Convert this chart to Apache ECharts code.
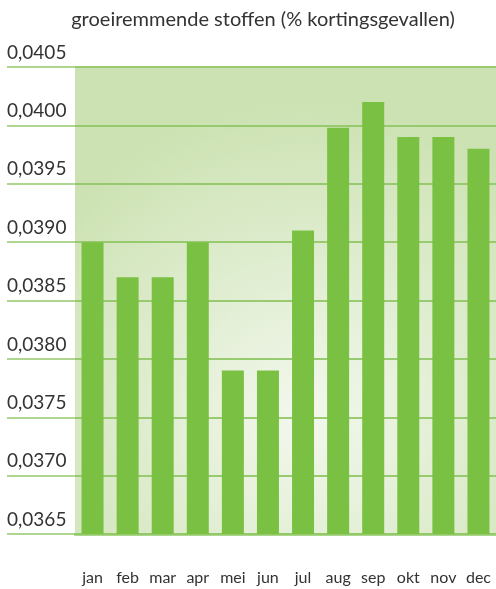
<!DOCTYPE html>
<html>
<head>
<meta charset="utf-8">
<script src="https://cdn.jsdelivr.net/npm/echarts@6/dist/echarts.min.js"></script>
<style>
  html, body { margin: 0; padding: 0; background: #fff; }
  #chart { width: 496px; height: 589px; }
</style>
</head>
<body>
<div id="chart"></div>
<script>
// data
const months = ['jan', 'feb', 'mar', 'apr', 'mei', 'jun', 'jul', 'aug', 'sep', 'okt', 'nov', 'dec'];
const kortingen = [0.0390, 0.0387, 0.0387, 0.0390, 0.0379, 0.0379, 0.0391, 0.03998, 0.0402, 0.0399, 0.0399, 0.0398];
const yMin = 0.0365;
const yMax = 0.0405;
const yStep = 0.0005;

const chart = echarts.init(document.getElementById('chart'));

const fontFam = 'Lato, "Open Sans", sans-serif';
const lineGreen = '#93c968';

const bgGradient = new echarts.graphic.RadialGradient(0.55, 0.75, 0.75, [
  { offset: 0, color: '#f3f8ee' },
  { offset: 1, color: '#cce2b2' }
]);

const option = {
  animation: false,
  title: {
    text: 'groeiremmende stoffen (% kortingsgevallen)',
    left: 258,
    textAlign: 'center',
    top: 5,
    textStyle: { fontFamily: fontFam, fontSize: 20, fontWeight: 'normal', color: '#333' }
  },
  grid: [
    // labels + long gridlines
    { left: 7, right: 0, top: 67, bottom: 55 },
    // bars with shaded background
    { left: 75, width: 423, top: 67, bottom: 55, show: true, backgroundColor: bgGradient, borderWidth: 0 }
  ],
  xAxis: [
    { gridIndex: 0, type: 'category', data: months, show: false },
    {
      gridIndex: 1,
      type: 'category',
      data: months,
      axisLine: { show: true, lineStyle: { color: lineGreen, width: 2.5 } },
      axisTick: { show: false },
      axisLabel: { margin: 36, fontFamily: fontFam, fontSize: 16, color: '#333' }
    }
  ],
  yAxis: [
    {
      gridIndex: 0,
      type: 'value',
      min: yMin,
      max: yMax,
      interval: yStep,
      axisLine: { show: false },
      axisTick: { show: false },
      splitLine: { lineStyle: { color: lineGreen, width: 1.5 } },
      axisLabel: {
        inside: true,
        margin: 0,
        align: 'left',
        verticalAlign: 'bottom',
        padding: [0, 0, 5, 0],
        fontFamily: fontFam,
        fontSize: 19,
        color: '#333',
        showMinLabel: true,
        showMaxLabel: true,
        formatter: v => v.toFixed(4).replace('.', ',')
      }
    },
    {
      gridIndex: 1,
      type: 'value',
      min: yMin,
      max: yMax,
      interval: yStep,
      axisLine: { show: false },
      axisTick: { show: false },
      axisLabel: { show: false },
      splitLine: { lineStyle: { color: lineGreen, width: 1.5 } }
    }
  ],
  series: [
    {
      type: 'bar',
      xAxisIndex: 1,
      yAxisIndex: 1,
      data: kortingen,
      barWidth: 22,
      itemStyle: { color: '#7ac143' },
      z: 3
    }
  ]
};

chart.setOption(option);
</script>
</body>
</html>
